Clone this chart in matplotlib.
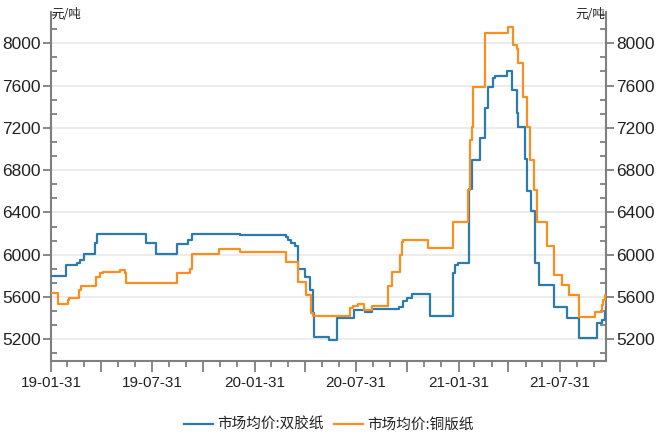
import matplotlib
matplotlib.use("Agg")
import matplotlib.pyplot as plt
import matplotlib.ticker as mticker
import matplotlib.dates as mdates
import pandas as pd

# Weekly market prices (元/吨), stored as change points of a step series.
offset_dates = [
    "2019-01-31", "2019-02-26", "2019-03-19", "2019-03-24", "2019-04-01", "2019-04-19",
    "2019-04-23", "2019-07-21", "2019-08-08", "2019-09-13", "2019-10-03", "2019-10-10",
    "2020-01-04", "2020-03-28", "2020-03-31", "2020-04-06", "2020-04-12", "2020-04-17",
    "2020-04-30", "2020-05-09", "2020-05-15", "2020-05-17", "2020-06-12", "2020-06-26",
    "2020-07-27", "2020-08-16", "2020-08-28", "2020-10-16", "2020-10-23", "2020-10-30",
    "2020-11-08", "2020-12-10", "2021-01-21", "2021-01-24", "2021-01-30", "2021-02-19",
    "2021-02-23", "2021-03-11", "2021-03-19", "2021-03-25", "2021-04-03", "2021-04-06",
    "2021-04-27", "2021-05-06", "2021-05-15", "2021-05-18", "2021-05-30", "2021-06-03",
    "2021-06-09", "2021-06-17", "2021-06-23", "2021-07-20", "2021-08-13", "2021-09-03",
    "2021-10-06", "2021-10-15", "2021-10-21", "2021-10-22",
]
offset_vals = [
    5800, 5900, 5920, 5950, 6010, 6110,
    6200, 6110, 6010, 6100, 6140, 6200,
    6190, 6170, 6140, 6110, 6080, 5870,
    5790, 5670, 5450, 5220, 5190, 5400,
    5480, 5460, 5485, 5510, 5560, 5590,
    5625, 5420, 5825, 5900, 5925, 6620,
    6900, 7100, 7385, 7590, 7670, 7690,
    7740, 7560, 7340, 7210, 6910, 6600,
    6410, 5920, 5715, 5510, 5400, 5210,
    5350, 5385, 5450, 5510,
]

coated_dates = [
    "2019-01-31", "2019-02-12", "2019-03-02", "2019-03-05", "2019-03-22", "2019-03-26",
    "2019-04-22", "2019-04-28", "2019-05-04", "2019-06-03", "2019-06-12", "2019-06-15",
    "2019-09-14", "2019-10-07", "2019-10-10", "2019-11-29", "2020-01-04", "2020-03-28",
    "2020-04-17", "2020-05-03", "2020-05-11", "2020-05-14", "2020-07-20", "2020-07-26",
    "2020-08-04", "2020-08-14", "2020-08-28", "2020-09-27", "2020-10-03", "2020-10-18",
    "2020-10-21", "2020-10-23", "2020-12-07", "2021-01-21", "2021-02-17", "2021-02-20",
    "2021-02-23", "2021-02-26", "2021-03-19", "2021-04-29", "2021-05-08", "2021-05-15",
    "2021-05-18", "2021-05-27", "2021-06-03", "2021-06-08", "2021-06-15", "2021-06-21",
    "2021-07-08", "2021-07-20", "2021-08-04", "2021-08-16", "2021-09-03", "2021-10-03",
    "2021-10-15", "2021-10-17", "2021-10-21", "2021-10-22",
]
coated_vals = [
    5640, 5530, 5570, 5590, 5670, 5700,
    5790, 5825, 5840, 5855, 5825, 5735,
    5825, 5870, 6010, 6050, 6030, 5930,
    5745, 5620, 5450, 5420, 5500, 5515,
    5535, 5480, 5515, 5700, 5840, 6000,
    6125, 6140, 6060, 6310, 6610, 7090,
    7210, 7590, 8100, 8155, 7985, 7950,
    7810, 7495, 7210, 6900, 6610, 6310,
    6080, 5810, 5715, 5620, 5415, 5460,
    5525, 5575, 5620, 5620,
]

series_labels = ["市场均价:双胶纸", "市场均价:铜版纸"]
unit_label = "元/吨"
x_start, x_end = "2019-01-31", "2021-10-22"
y_ticks = [5200, 5600, 6000, 6400, 6800, 7200, 7600, 8000]

num_font = "Liberation Sans"
cjk_font = ["Noto Sans CJK SC", "DejaVu Sans"]

blue = "#2b7bad"
orange = "#f8901f"
axis_gray = "#7f7f7f"
text_col = "#222222"

W, H = 665, 440
fig = plt.figure(figsize=(W / 100, H / 100), dpi=100)
left, right, top, bottom = 51, 606, 12, 360.5
ax = fig.add_axes([left / W, 1 - bottom / H, (right - left) / W, (bottom - top) / H])

ax.step(pd.to_datetime(offset_dates), offset_vals, where="post", color=blue, lw=1.6,
        label=series_labels[0], zorder=3)
ax.step(pd.to_datetime(coated_dates), coated_vals, where="post", color=orange, lw=1.6,
        label=series_labels[1], zorder=3)

ax.set_xlim(pd.Timestamp(x_start), pd.Timestamp(x_end))
ax.set_ylim(5000, 8296)

# y axis on both sides: majors out, minor ticks pointing into the plot
ax.yaxis.set_major_locator(mticker.FixedLocator(y_ticks))
ax.yaxis.set_minor_locator(mticker.MultipleLocator(400 / 3))
ax.yaxis.set_ticks_position("both")
ax.tick_params(axis="y", which="major", direction="out", length=6, width=1.3,
               color=axis_gray, labelleft=True, labelright=True, labelsize=12.5,
               labelcolor=text_col, pad=1.5)
ax.tick_params(axis="y", which="minor", direction="in", length=4, width=1.3, color=axis_gray)

# x axis: quarterly majors, monthly minors, labels every half year
quarter_ends = pd.date_range(x_start, x_end, freq="3ME")
month_ends = pd.date_range(x_start, x_end, freq="ME")
ax.xaxis.set_major_locator(mticker.FixedLocator(mdates.date2num(quarter_ends)))
ax.xaxis.set_minor_locator(mticker.FixedLocator(mdates.date2num(month_ends)))


def half_year_label(x, pos):
    d = mdates.num2date(x)
    return d.strftime("%y-%m-%d") if d.month in (1, 7) else ""


ax.xaxis.set_major_formatter(mticker.FuncFormatter(half_year_label))
ax.tick_params(axis="x", which="major", direction="out", length=8, width=1.3,
               color=axis_gray, labelsize=11, labelcolor=text_col, pad=3)
ax.tick_params(axis="x", which="minor", direction="out", length=4, width=1.3, color=axis_gray)

for lab in ax.get_xticklabels() + ax.get_yticklabels():
    lab.set_fontfamily(num_font)

for side in ["left", "right", "bottom"]:
    ax.spines[side].set_color(axis_gray)
    ax.spines[side].set_linewidth(1.5)
ax.spines["top"].set_visible(False)

ax.grid(axis="y", which="major", color="#ebebeb", lw=1.3, zorder=0)
ax.set_axisbelow(True)

fig.text(left / W + 0.001, 1 - 15 / H, unit_label, ha="left", va="center",
         fontsize=9, family=cjk_font, color=text_col)
fig.text(right / W - 0.001, 1 - 15 / H, unit_label, ha="right", va="center",
         fontsize=9, family=cjk_font, color=text_col)

fig.legend(loc="center", bbox_to_anchor=(329 / W, 1 - 425 / H), ncol=2, frameon=False,
           handlelength=2.0, handletextpad=0.3, columnspacing=0.7,
           prop={"family": cjk_font, "size": 10.5}, labelcolor=text_col)

fig.savefig("out.png", dpi=100)
